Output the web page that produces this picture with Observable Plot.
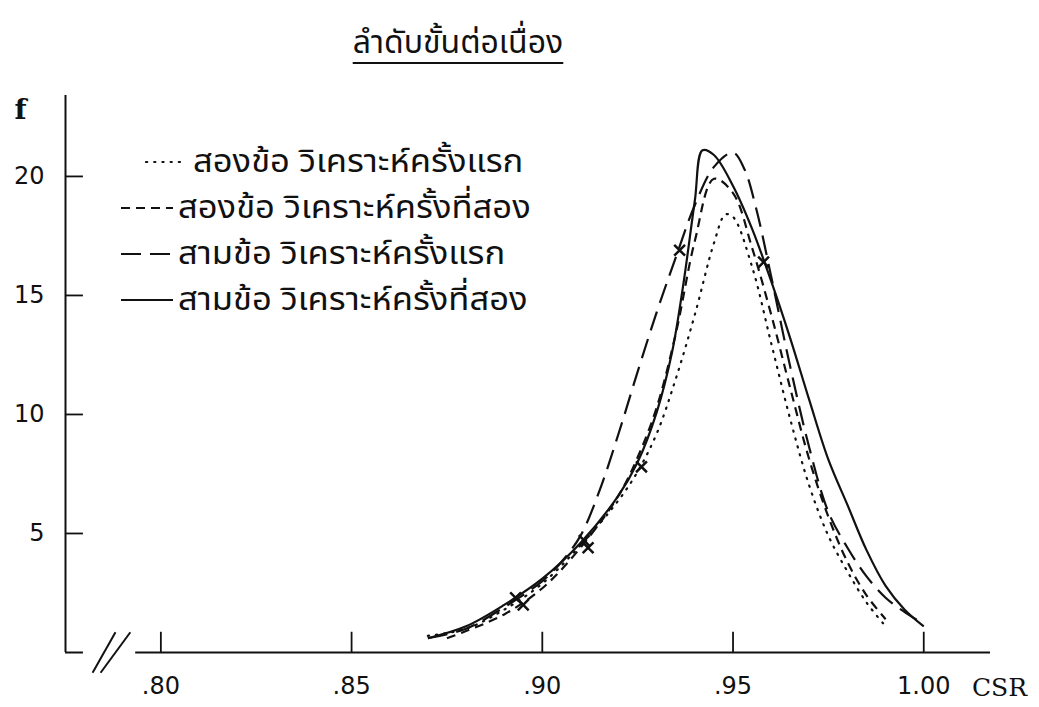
<!DOCTYPE html>
<html>
<head>
<meta charset="utf-8">
<script src="https://cdn.jsdelivr.net/npm/d3@7"></script>
<script src="https://cdn.jsdelivr.net/npm/@observablehq/plot@0.6"></script>
<style>
  body { margin: 0; background: #fff; }
  #wrap { position: relative; width: 1039px; height: 707px; overflow: hidden; background: #fff; }
  .thai { font-family: "Noto Sans Thai", "Noto Serif Thai", "Tlwg Typist", "Garuda", "Loma", "Norasi", "DejaVu Sans", sans-serif; color: #111; }
  #title { position: absolute; left: 0; width: 916px; top: 24px; text-align: center; font-size: 32px; line-height: 38px; }
  #title span { text-decoration: underline; text-decoration-thickness: 2px; text-underline-offset: 9px; }
  #legend { position: absolute; left: 120px; top: 139px; }
  .row { display: flex; align-items: center; height: 46px; font-size: 32px; white-space: nowrap; }
  .row svg { margin-right: 4px; flex: none; }
  .row:first-child svg { margin-left: 25px; margin-right: 6px; }
  .row span { display: inline-block; line-height: 44px; transform: scaleX(1.08); transform-origin: left center; }
</style>
</head>
<body>
<div id="wrap">
  <div id="chart"></div>
  <div id="title" class="thai"><span>ลำดับขั้นต่อเนื่อง</span></div>
  <div id="legend" class="thai"></div>
</div>
<script>
// Frequency (f) of CSR values for each analysis.
const seriesNames = [
  "สองข้อ วิเคราะห์ครั้งแรก",
  "สองข้อ วิเคราะห์ครั้งที่สอง",
  "สามข้อ วิเคราะห์ครั้งแรก",
  "สามข้อ วิเคราะห์ครั้งที่สอง"
];

const csrTwoFirst = [0.870, 0.880, 0.890, 0.900, 0.910, 0.920, 0.925, 0.930, 0.935, 0.940, 0.945, 0.948, 0.950, 0.955, 0.960, 0.965, 0.970, 0.975, 0.980, 0.985, 0.990];
const fTwoFirst   = [0.7, 1.0, 1.8, 2.9, 4.5, 6.4, 7.6, 9.2, 11.5, 14.2, 17.2, 18.4, 18.3, 16.2, 13.0, 9.8, 7.0, 4.9, 3.4, 2.1, 1.1];

const csrTwoSecond = [0.875, 0.880, 0.890, 0.900, 0.910, 0.920, 0.925, 0.930, 0.935, 0.940, 0.945, 0.950, 0.955, 0.960, 0.965, 0.970, 0.975, 0.980, 0.985, 0.990];
const fTwoSecond   = [0.6, 0.9, 1.6, 2.7, 4.4, 6.6, 8.2, 10.3, 13.4, 17.3, 19.9, 19.3, 17.0, 14.2, 11.1, 8.1, 5.7, 3.8, 2.4, 1.4];

const csrThreeFirst = [0.870, 0.880, 0.890, 0.900, 0.905, 0.910, 0.915, 0.920, 0.925, 0.930, 0.935, 0.940, 0.945, 0.950, 0.953, 0.956, 0.960, 0.965, 0.970, 0.975, 0.980, 0.985, 0.990, 0.995, 1.000];
const fThreeFirst   = [0.6, 1.0, 1.9, 3.0, 3.8, 4.9, 6.8, 9.2, 11.8, 14.3, 16.6, 18.8, 20.4, 21.0, 20.3, 18.7, 15.8, 12.0, 8.6, 5.9, 4.4, 3.2, 2.3, 1.7, 1.2];

const csrThreeSecond = [0.870, 0.880, 0.890, 0.900, 0.910, 0.920, 0.925, 0.930, 0.934, 0.937, 0.940, 0.942, 0.945, 0.950, 0.955, 0.960, 0.965, 0.970, 0.975, 0.980, 0.985, 0.990, 0.995, 1.000];
const fThreeSecond   = [0.6, 1.1, 2.0, 3.1, 4.6, 6.6, 8.0, 10.1, 12.6, 15.5, 19.0, 21.1, 20.9, 19.6, 17.8, 15.6, 13.2, 10.6, 8.1, 6.2, 4.3, 2.8, 1.8, 1.1];

// Hand-marked points along the curves
const markCsr = [0.893, 0.895, 0.911, 0.912, 0.926, 0.936, 0.958];
const markF   = [2.3, 2.0, 4.7, 4.4, 7.8, 16.9, 16.4];

// Axes
const xTicks = [0.80, 0.85, 0.90, 0.95, 1.00];
const xTickLabels = [".80", ".85", ".90", ".95", "1.00"];
const yTicks = [5, 10, 15, 20];
const yTickLabels = ["5", "10", "15", "20"];
const xLabel = "CSR";
const yLabel = "f";

// Line styles per series (dotted, short dash, long dash, solid)
const dashes = ["1.2,7", "9,6", "20,9", null];

const seriesCsr = [csrTwoFirst, csrTwoSecond, csrThreeFirst, csrThreeSecond];
const seriesF = [fTwoFirst, fTwoSecond, fThreeFirst, fThreeSecond];
const points = seriesNames.flatMap((name, s) =>
  seriesCsr[s].map((csr, i) => ({series: name, csr, f: seriesF[s][i]})));
const marks = markCsr.map((csr, i) => ({csr, f: markF[i]}));

const xMin = 0.775, xMax = 1.0175, yMax = 23.4;
const breakGap = [0.7797, 0.7934];            // gap in the x axis for the break symbol
const breakStrokes = [[0.7821, -0.85, 0.7881, 0.85], [0.7842, -0.85, 0.7920, 0.85]];
const xTickLen = 0.85, yTickLen = 0.0047;

const ink = "#111";
const numFont = "'DejaVu Sans', sans-serif";
const slabFont = "'DejaVu Serif', 'Liberation Serif', serif";

const chart = Plot.plot({
  width: 1039,
  height: 707,
  marginLeft: 65,
  marginRight: 49,
  marginTop: 95,
  marginBottom: 55,
  style: {background: "white", overflow: "visible"},
  x: {domain: [xMin, xMax], axis: null},
  y: {domain: [0, yMax], axis: null},
  marks: [
    // y axis
    Plot.ruleX([xMin], {stroke: ink, strokeWidth: 2}),
    // broken x axis
    Plot.ruleY([[xMin, breakGap[0]], [breakGap[1], xMax]], {y: 0, x1: d => d[0], x2: d => d[1], stroke: ink, strokeWidth: 2}),
    Plot.link(breakStrokes, {x1: d => d[0], y1: d => d[1], x2: d => d[2], y2: d => d[3], stroke: ink, strokeWidth: 2}),
    // ticks
    Plot.ruleX(xTicks, {x: d => d, y1: 0, y2: xTickLen, stroke: ink, strokeWidth: 1.8}),
    Plot.ruleY(yTicks, {y: d => d, x1: xMin, x2: xMin + yTickLen, stroke: ink, strokeWidth: 1.8}),
    Plot.text(xTicks, {x: d => d, y: 0, text: (d, i) => xTickLabels[i], dy: 34, fontSize: 24, fontFamily: numFont, fill: ink}),
    Plot.text(yTicks, {x: xMin, y: d => d, text: (d, i) => yTickLabels[i], dx: -21, textAnchor: "end", fontSize: 24, fontFamily: numFont, fill: ink}),
    Plot.text([xLabel], {frameAnchor: "bottom-right", text: d => d, dx: 9, dy: 35, textAnchor: "middle", lineAnchor: "middle", fontSize: 25, fontFamily: slabFont, fill: ink}),
    Plot.text([yLabel], {frameAnchor: "top-left", text: d => d, dx: -45, dy: 15, textAnchor: "middle", lineAnchor: "middle", fontSize: 28, fontFamily: slabFont, fontWeight: "bold", fill: ink}),
    // curves
    ...seriesNames.map((name, s) =>
      Plot.line(points.filter(d => d.series === name), {
        x: "csr", y: "f", curve: "catmull-rom",
        stroke: ink, strokeWidth: 2.2,
        strokeDasharray: dashes[s] ?? undefined,
        strokeLinecap: s === 0 ? "round" : "butt"
      })),
    Plot.dot(marks, {x: "csr", y: "f", symbol: "times", r: 5, stroke: ink, strokeWidth: 2.5})
  ]
});
document.getElementById("chart").appendChild(chart);

// Legend rows: line sample + label
const legend = document.getElementById("legend");
seriesNames.forEach((name, s) => {
  const row = document.createElement("div");
  row.className = "row";
  const w = s === 0 ? 42 : 54;
  const svg = d3.create("svg").attr("width", w).attr("height", 10);
  svg.append("line").attr("x1", 1).attr("x2", w - 1).attr("y1", 5).attr("y2", 5)
    .attr("stroke", ink).attr("stroke-width", 2.2)
    .attr("stroke-linecap", s === 0 ? "round" : "butt")
    .attr("stroke-dasharray", dashes[s] ?? null);
  row.appendChild(svg.node());
  const label = document.createElement("span");
  label.textContent = name;
  row.appendChild(label);
  legend.appendChild(row);
});
</script>
</body>
</html>
